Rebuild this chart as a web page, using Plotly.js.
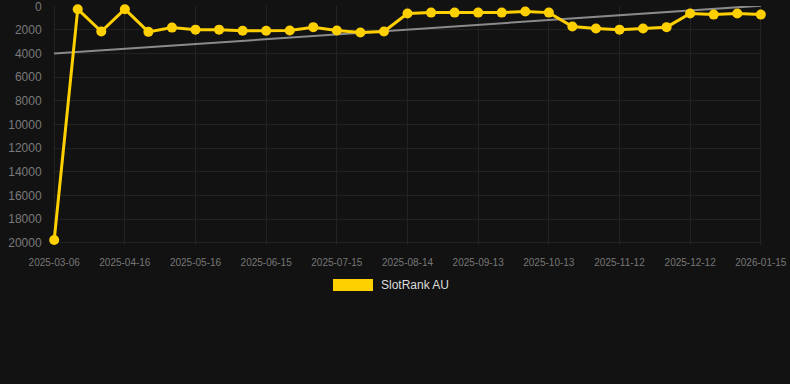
<!DOCTYPE html>
<html>
<head>
<meta charset="utf-8">
<script src="https://cdn.plot.ly/plotly-3.0.1.min.js"></script>
<style>
html,body{margin:0;padding:0;background:#121212;}
#chart{width:790px;height:384px;}
</style>
</head>
<body>
<div id="chart"></div>
<script>
const dates = ["2025-03-06","2025-03-26","2025-04-06","2025-04-16","2025-04-26","2025-05-06","2025-05-16","2025-05-26","2025-06-05","2025-06-15","2025-06-25","2025-07-05","2025-07-15","2025-07-25","2025-08-04","2025-08-14","2025-08-24","2025-09-03","2025-09-13","2025-09-23","2025-10-03","2025-10-13","2025-10-23","2025-11-02","2025-11-12","2025-11-22","2025-12-02","2025-12-12","2025-12-22","2026-01-02","2026-01-15"];
const ranks = [19780,240,2130,240,2160,1800,1970,1970,2070,2060,2050,1760,2050,2220,2130,610,530,530,530,530,440,530,1710,1880,1970,1880,1760,610,700,610,700];
const trendX = ["2025-03-06","2026-01-15"];
const trendY = [4000,-60];
const tickDates = ["2025-03-06","2025-04-16","2025-05-16","2025-06-15","2025-07-15","2025-08-14","2025-09-13","2025-10-13","2025-11-12","2025-12-12","2026-01-15"];
const yTicks = [0,2000,4000,6000,8000,10000,12000,14000,16000,18000,20000];
const seriesName = "SlotRank AU";

const gold = "#FFD000";
const data = [
  {x: trendX, y: trendY, type: "scatter", mode: "lines", line: {color: "#8a8a8a", width: 2}, hoverinfo: "skip", showlegend: false, cliponaxis: false},
  {x: dates, y: ranks, type: "scatter", mode: "lines+markers", name: seriesName, cliponaxis: false,
   line: {color: gold, width: 3}, marker: {color: gold, size: 10}, showlegend: false}
];
const layout = {
  width: 790, height: 384,
  paper_bgcolor: "#121212", plot_bgcolor: "#121212",
  margin: {l: 53, r: 28, t: 6, b: 139},
  font: {family: "Arial, Liberation Sans, sans-serif"},
  xaxis: {type: "category", categoryorder: "array", categoryarray: dates, range: [-0.05, dates.length - 1 + 0.05],
    tickmode: "array", tickvals: tickDates, ticktext: tickDates,
    showgrid: true, gridcolor: "#222222", gridwidth: 1, zeroline: false, showline: false,
    ticks: "outside", ticklen: 8, tickcolor: "rgba(0,0,0,0)", ticklabeloverflow: "allow",
    tickfont: {size: 10, color: "#777777"}},
  yaxis: {range: [20200, -30], tickmode: "array", tickvals: yTicks, ticktext: yTicks.map(String),
    showgrid: true, gridcolor: "#222222", gridwidth: 1, zeroline: false, showline: false,
    ticks: "outside", ticklen: 8, tickcolor: "rgba(0,0,0,0)", ticklabeloverflow: "allow",
    tickfont: {size: 12, color: "#7a7a7a"}},
  shapes: [
    {type: "rect", xref: "paper", yref: "paper", x0: (333-53)/709, x1: (373-53)/709,
     y0: (245-279)/239, y1: (245-291)/239, fillcolor: gold, line: {width: 0}}
  ],
  annotations: [
    {xref: "paper", yref: "paper", x: (379-53)/709, y: (245-285)/239, xanchor: "left", yanchor: "middle",
     text: seriesName, showarrow: false, font: {size: 12, color: "#dddddd"}}
  ]
};
Plotly.newPlot("chart", data, layout, {displayModeBar: false, staticPlot: true});
</script>
</body>
</html>
